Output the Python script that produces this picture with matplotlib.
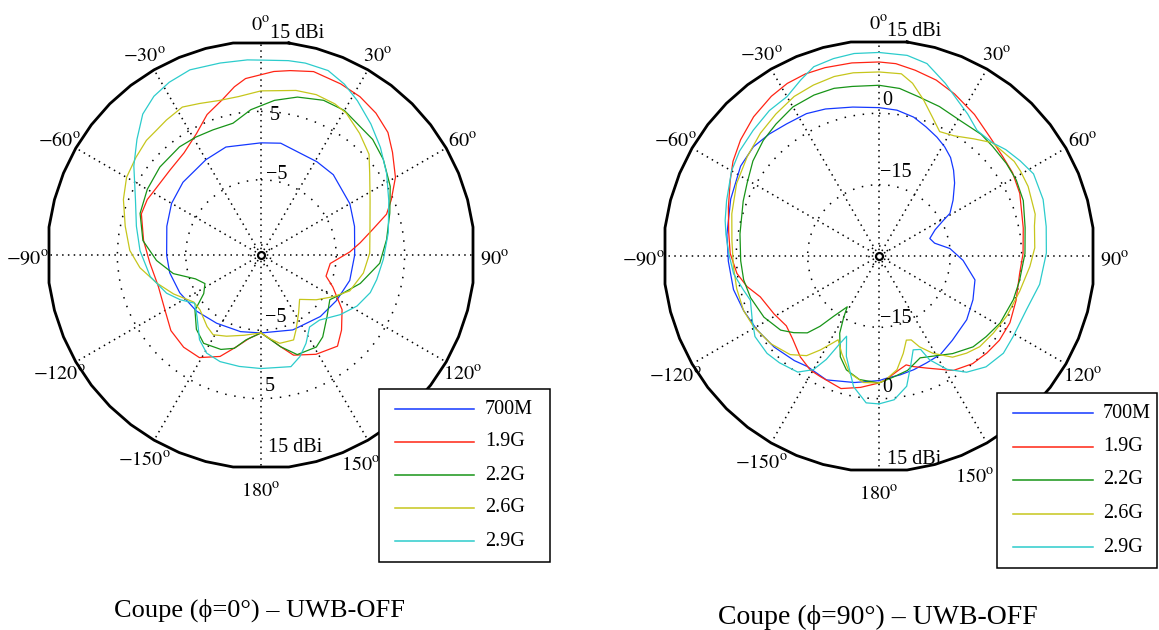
import numpy as np
import matplotlib
matplotlib.use("Agg")
import matplotlib.pyplot as plt
from matplotlib.lines import Line2D
from matplotlib.patches import Rectangle

plt.rcParams['font.family'] = ['Liberation Serif', 'DejaVu Serif']
plt.rcParams['mathtext.fontset'] = 'stix'

labels = ['700M', '1.9G', '2.2G', '2.6G', '2.9G']
colors = ['#1438ff', '#ff2414', '#179417', '#c6c61c', '#2ccccc']

# --- cut phi=0 : angle (deg, clockwise from top), gain (dBi)
c0_700m_deg = [-180, -165, -147, -131, -115, -101, -90, -73, -60, -47, -30, -18, 0, 10, 31, 42, 60, 73,
               90, 106, 121, 136, 157, 180]
c0_700m_db = [-4.6, -4.4, -4.1, -3.5, -2.9, -2.4, -2.2, -1.6, -0.9, -0.4, 0.1, 0.6, 0.4, 0.6, -0.1, -0.2,
              -1.0, -1.7, -2.3, -2.5, -3.1, -3.5, -4.1, -4.6]

c0_19g_deg = [-180, -172, -165, -158, -149, -140, -130, -120, -107, -94, -83, -71, -64, -58, -47, -37, -28,
              -21, -14, -9, -5, 4, 9, 16, 25, 32, 39, 46, 52, 60, 67, 72, 77, 83, 88, 97, 108, 114, 124,
              133, 140, 151, 162, 168, 174, 180]
c0_19g_db = [-4.6, -3.7, -2.1, 0.0, 1.5, 1.6, 1.2, 0.2, -0.3, 0.3, 1.3, 2.5, 2.5, 2.2, 2.2, 2.7, 4.1, 6.0,
             7.4, 8.9, 9.9, 10.9, 11.3, 11.9, 11.6, 11.3, 10.7, 9.8, 8.4, 6.7, 4.7, 3.3, 0.8, -1.4, -3.0,
             -5.8, -6.0, -4.5, -1.7, 0.1, 1.4, 0.6, -0.6, -2.3, -3.7, -4.6]

c0_22g_deg = [-180, -170, -164, -157, -147, -139, -130, -124, -117, -110, -102, -93, -83, -71, -60, -49,
              -37, -29, -21, -12, -4, 5, 13, 22, 30, 38, 44, 52, 62, 72, 83, 94, 106, 117, 123, 133, 143,
              149, 160, 168, 180]
c0_22g_db = [-4.6, -3.4, -1.8, -1.0, -0.6, -1.6, -3.4, -5.9, -6.8, -5.8, -2.9, -0.7, 1.4, 2.7, 3.2, 3.6,
             3.8, 3.7, 3.6, 3.7, 5.3, 6.7, 7.7, 8.4, 8.4, 7.7, 7.5, 6.7, 5.4, 3.8, 2.5, 1.4, -0.9, -3.1,
             -4.0, -2.8, -1.0, -0.3, -0.5, -2.3, -4.6]

c0_26g_deg = [-180, -168, -157, -149, -143, -132, -125, -114, -105, -96, -88, -78, -68, -60, -52, -45, -40,
              -35, -28, -22, -15, -8, 0, 12, 19, 26, 31, 39, 47, 53, 63, 75, 89, 100, 112, 120, 129, 139,
              147, 155, 159, 168, 174, 180]
c0_26g_db = [-4.6, -4.0, -3.1, -2.4, -2.9, -4.0, -4.0, -2.0, -0.2, 1.8, 3.2, 4.3, 5.7, 6.7, 7.2, 7.7, 7.8,
             8.1, 8.5, 7.9, 7.4, 7.4, 8.0, 8.6, 8.8, 8.6, 8.2, 6.9, 5.6, 3.9, 1.9, 0.5, -0.1, -0.8, -2.0,
             -3.8, -5.6, -7.4, -5.9, -3.9, -2.7, -2.8, -3.7, -4.6]

c0_29g_deg = [-180, -169, -159, -151, -144, -134, -126, -119, -112, -101, -88, -77, -66, -55, -47, -40,
              -34, -28, -21, -12, -4, 0, 8, 13, 20, 26, 32, 40, 48, 57, 67, 80, 92, 102, 109, 118, 127,
              138, 146, 153, 159, 165, 180]
c0_29g_db = [0.6, 0.6, 0.7, 0.4, -0.7, -3.0, -4.0, -2.5, -1.1, 0.5, 1.7, 2.7, 4.1, 6.7, 8.8, 10.9, 12.0,
             12.6, 13.0, 12.7, 12.6, 12.5, 12.7, 12.8, 12.7, 11.8, 10.6, 9.0, 7.5, 5.9, 4.3, 2.9, 1.9, 1.3,
             0.9, -0.1, -1.5, -3.2, -3.3, -1.5, -0.1, 0.9, 0.6]

# --- cut phi=90
c90_700m_deg = [-180, -169, -157, -147, -141, -131, -121, -112, -103, -92, -82, -69, -57, -49, -42, -35,
                -27, -20, -10, 0, 7, 14, 20, 26, 31, 36, 41, 46, 53, 59, 61, 65, 71, 77, 84, 93, 104, 115,
                126, 139, 148, 156, 163, 170, 176, 180]
c90_700m_db = [-3.8, -2.9, -1.7, -2.3, -1.7, -0.8, 0.0, 0.7, 1.4, 1.7, 2.3, 3.4, 4.7, 5.0, 4.5, 3.9, 3.6,
               2.9, 1.8, 1.2, 0.9, 0.1, -1.1, -2.2, -3.2, -4.4, -6.1, -7.9, -10.5, -12.6, -14.5, -17.0,
               -18.7, -18.0, -15.0, -12.3, -9.2, -8.2, -7.2, -6.5, -5.6, -5.4, -5.0, -4.6, -4.3, -3.8]

c90_19g_deg = [-180, -172, -164, -154, -149, -142, -134, -127, -119, -109, -103, -97, -89, -81, -72, -63,
               -57, -50, -42, -34, -28, -22, -16, -8, 0, 5, 11, 18, 25, 34, 43, 51, 58, 66, 79, 89, 97,
               108, 117, 125, 132, 139, 147, 157, 163, 166, 170, 177, 180]
c90_19g_db = [-3.3, -2.1, -1.0, -1.8, -2.0, -3.1, -4.8, -5.6, -4.8, -3.6, -1.5, 0.1, 1.3, 2.0, 3.3, 5.1,
              6.6, 8.0, 9.4, 10.5, 11.1, 11.3, 11.2, 11.0, 10.8, 10.6, 9.8, 8.9, 7.6, 5.9, 4.2, 3.4, 3.1,
              2.4, 0.9, 0.3, -0.2, 0.3, 0.9, 0.9, 0.5, 0.0, -1.3, -4.4, -5.7, -6.4, -5.7, -3.9, -3.3]

c90_22g_deg = [-180, -171, -164, -159, -153, -150, -148, -143, -140, -137, -132, -127, -118, -108, -100,
               -92, -81, -68, -61, -53, -45, -38, -30, -22, -15, -9, 0, 7, 14, 22, 31, 40, 46, 54, 61, 69,
               79, 89, 100, 108, 119, 127, 134, 143, 150, 158, 166, 173, 180]
c90_22g_db = [-3.3, -3.7, -5.1, -7.3, -11.8, -15.2, -17.4, -14.1, -10.7, -7.9, -5.9, -4.1, -2.6, -1.6,
              -1.1, -0.9, -0.4, 0.8, 1.7, 3.2, 4.4, 5.2, 6.2, 6.5, 6.5, 6.1, 5.9, 5.5, 4.5, 3.9, 3.2, 3.4,
              3.2, 3.1, 3.0, 2.5, 1.3, 0.7, 0.0, -0.3, -0.9, -1.8, -2.5, -4.3, -5.8, -6.9, -5.2, -4.4, -3.3]

c90_26g_deg = [-180, -173, -166, -159, -154, -152, -148, -144, -138, -129, -119, -112, -103, -94, -84, -74,
               -63, -53, -44, -36, -28, -21, -14, -8, 0, 7, 11, 16, 21, 26, 32, 39, 45, 55, 59, 65, 75,
               79, 87, 94, 104, 115, 124, 132, 138, 144, 151, 156, 159, 162, 166, 171, 177, 180]
c90_26g_db = [-3.3, -3.2, -4.6, -8.1, -10.4, -9.3, -6.7, -4.1, -2.1, -0.7, 0.3, 0.7, 0.7, 0.7, 1.1, 2.2,
              3.6, 4.7, 5.9, 6.9, 8.0, 8.5, 8.9, 8.9, 8.7, 8.6, 7.0, 4.1, 1.3, -0.9, -0.2, 1.7, 3.7, 4.7,
              4.7, 4.6, 4.0, 3.3, 2.8, 1.8, 0.5, -0.3, -1.0, -1.5, -2.5, -3.7, -6.6, -9.1, -11.1, -11.4,
              -8.9, -5.8, -3.9, -3.3]

c90_29g_deg = [-180, -175, -169, -162, -158, -156, -153, -150, -145, -137, -131, -123, -117, -109, -104,
               -97, -89, -82, -77, -70, -60, -53, -45, -37, -30, -24, -19, -13, -7, 0, 8, 14, 21, 27, 32,
               38, 45, 50, 56, 62, 71, 80, 89, 100, 110, 121, 128, 136, 143, 149, 154, 156, 160, 164, 168,
               174, 180]
c90_29g_db = [1.1, 1.0, -2.0, -7.8, -11.8, -9.9, -5.6, -2.4, -0.2, 0.7, 1.2, 1.1, -0.1, -1.4, -0.6, 0.8,
              1.6, 2.5, 3.2, 4.1, 5.8, 6.7, 7.4, 8.3, 8.7, 10.5, 12.1, 12.6, 12.9, 12.8, 12.6, 11.7, 8.9,
              6.6, 5.2, 3.5, 3.7, 4.8, 5.8, 6.8, 6.5, 5.7, 5.2, 4.3, 3.0, 2.9, 3.2, 2.4, 0.6, -2.2, -5.7,
              -8.5, -9.0, -5.9, -2.0, 0.4, 1.1]

cut0 = [(c0_700m_deg, c0_700m_db), (c0_19g_deg, c0_19g_db), (c0_22g_deg, c0_22g_db),
        (c0_26g_deg, c0_26g_db), (c0_29g_deg, c0_29g_db)]
cut90 = [(c90_700m_deg, c90_700m_db), (c90_19g_deg, c90_19g_db), (c90_22g_deg, c90_22g_db),
         (c90_26g_deg, c90_26g_db), (c90_29g_deg, c90_29g_db)]

W, H = 1159, 630
FS = 14.5
fig = plt.figure(figsize=(W / 100, H / 100), dpi=100)


def panel(cx, cy, rad, vmin, rings, curves, rlabels, off150):
    ax = fig.add_axes([(cx - rad) / W, 1 - (cy + rad) / H, 2 * rad / W, 2 * rad / H],
                      projection='polar')
    ax.set_theta_zero_location('N')
    ax.set_theta_direction(-1)
    ax.set_ylim(vmin, 15)
    ax.set_xticks(np.deg2rad(np.arange(0, 360, 30)))
    ax.set_xticklabels([])
    small = vmin + 10.0 / rad * (15 - vmin)
    ax.set_yticks(rings + [small])
    ax.set_yticklabels([])
    ax.tick_params(length=0)
    ax.xaxis.grid(True, color='k', lw=1.1, linestyle=(0, (1, 2.8)))
    ax.yaxis.grid(True, color='k', lw=1.1, linestyle=(0, (1, 5)))
    ax.spines['polar'].set_visible(False)

    # outer boundary: coarse polygon, flat at the four cardinal points
    va = np.arange(7.5, 360, 7.5)
    va = va[va % 90 != 0]
    t = np.deg2rad(np.append(va, va[0]))
    k = 0.5 / np.cos(np.deg2rad(7.5))
    ax.plot(0.5 + k * np.sin(t), 0.5 + k * np.cos(t), transform=ax.transAxes,
            color='k', lw=2.0, clip_on=False, zorder=3)
    ax.plot([0], [vmin], 'o', ms=5, mfc='white', mec='k', mew=1.6, zorder=4)

    lines = []
    for (deg, db), lab, col in zip(curves, labels, colors):
        ln, = ax.plot(np.deg2rad(deg), db, color=col, lw=0.9, label=lab, zorder=5)
        lines.append(ln)

    r_lab = vmin + 1.1 * (15 - vmin)
    for a in [0, 30, 60, 90, 120, 150, 180, -150, -120, -90, -60, -30]:
        off = off150 if a == 150 else (0, -4)
        ax.annotate(r'$%d^{\rm o}$' % a, xy=(np.deg2rad(a), r_lab), xytext=off,
                    textcoords='offset pixels', ha='center', va='center', fontsize=FS,
                    annotation_clip=False)

    for txt, val, side, dx, dy in rlabels:
        ax.annotate(txt, xy=(np.deg2rad(side), val), xytext=(dx, dy), textcoords='offset pixels',
                    ha='left', va='center', fontsize=FS, annotation_clip=False, zorder=6)
    return lines


def legend(lines, box, y0, step, x_line, x_text):
    x0, top, x1, bot = box
    fig.add_artist(Rectangle((x0 / W, 1 - bot / H), (x1 - x0) / W, (bot - top) / H,
                             transform=fig.transFigure, facecolor='white', edgecolor='black',
                             lw=1.1, zorder=10))
    for i, ln in enumerate(lines):
        y = 1 - (y0 + i * step) / H
        fig.add_artist(Line2D([x_line[0] / W, x_line[1] / W], [y, y], transform=fig.transFigure,
                              color=ln.get_color(), lw=1.1, zorder=11))
        fig.text(x_text / W, y, ln.get_label(), ha='left', va='center', fontsize=FS, zorder=12)


left_rl = [('15 dBi', 15, 0, 9, 10), ('5', 5, 0, 9, -4), ('\u22125', -5, 0, 5, 5),
           ('15 dBi', 15, 180, 7, 19), ('5', 5, 180, 4, 12), ('\u22125', -5, 180, 4, 13)]
right_rl = [('15 dBi', 15, 0, 8, 10), ('0', 0, 0, 3, 13), ('\u221215', -15, 0, 1, 12),
            ('15 dBi', 15, 180, 8, 10), ('0', 0, 180, 3, 11), ('\u221215', -15, 180, 1, 9)]

lines0 = panel(261, 255, 212, -16, [5, -5], cut0, left_rl, (-17, -9))
lines90 = panel(879, 256, 214, -30, [0, -15], cut90, right_rl, (-22, -18))

legend(lines0, (379, 389, 550, 562), 409, 33, (395, 474), 485)
legend(lines90, (997, 393, 1157, 568), 413, 33.5, (1013, 1093), 1103)

fig.text(259 / W, 1 - 610 / H, 'Coupe (\u03d5=0\u00b0) \u2013 UWB-OFF', ha='center', va='center',
         fontsize=19)
fig.text(878 / W, 1 - 617 / H, 'Coupe (\u03d5=90\u00b0) \u2013 UWB-OFF', ha='center', va='center',
         fontsize=20)

fig.savefig('out.png', dpi=100)
